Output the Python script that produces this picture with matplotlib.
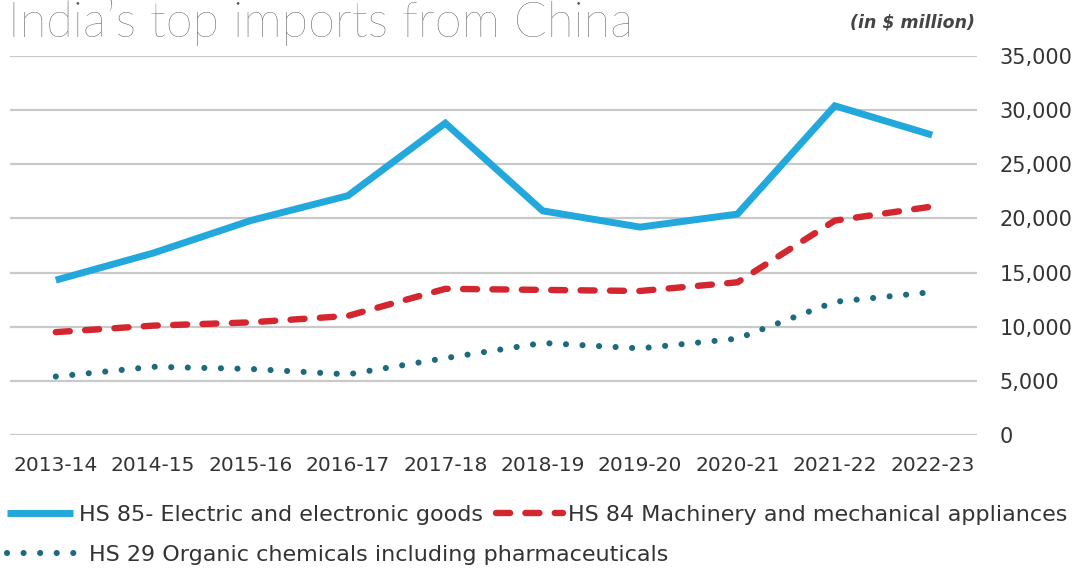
import matplotlib
matplotlib.use("Agg")
import matplotlib.pyplot as plt
from matplotlib.ticker import FuncFormatter

years = ["2013-14", "2014-15", "2015-16", "2016-17", "2017-18",
         "2018-19", "2019-20", "2020-21", "2021-22", "2022-23"]
electric = [14300, 16800, 19800, 22100, 28800, 20700, 19200, 20400, 30400, 27700]
machinery = [9500, 10100, 10400, 11000, 13500, 13400, 13300, 14100, 19800, 21100]
organic = [5400, 6300, 6100, 5600, 7100, 8500, 8000, 8900, 12300, 13200]
series_labels = ["HS 85- Electric and electronic goods",
                 "HS 84 Machinery and mechanical appliances",
                 "HS 29 Organic chemicals including pharmaceuticals"]
yticks = [0, 5000, 10000, 15000, 20000, 25000, 30000, 35000]

cond = ["DejaVu Sans"]
txt_color = "#333333"

W, H = 1075, 573
fig = plt.figure(figsize=(W / 100, H / 100), dpi=100)
fig.patch.set_facecolor("white")

ax_l, ax_r, ax_t, ax_b = 10, 977, 56, 435
ax = fig.add_axes([ax_l / W, 1 - ax_b / H, (ax_r - ax_l) / W, (ax_b - ax_t) / H])

x = list(range(len(years)))
blue = "#22a8dc"
red = "#d4262f"
teal = "#1c6a7e"

l1, = ax.plot(x, electric, color=blue, lw=5.0, solid_joinstyle="miter",
              solid_capstyle="butt", zorder=3)
l2, = ax.plot(x, machinery, color=red, lw=4.6, linestyle=(0, (2.2, 2.4)),
              dash_capstyle="round", zorder=3)
l3, = ax.plot(x, organic, color=teal, lw=4.4, linestyle=(0, (0.01, 2.7)),
              dash_capstyle="round", zorder=3)

ax.set_ylim(0, 35000)
ax.set_xlim(-0.47, 9.46)
ax.set_yticks(yticks)
ax.yaxis.set_major_formatter(FuncFormatter(lambda v, p: f"{int(v):,}"))
ax.yaxis.tick_right()
ax.set_xticks(x)
ax.set_xticklabels(years)
ax.grid(axis="y", color="#c9c9c9", lw=1.6, zorder=0)
ax.grid(axis="x", visible=False)
for s in ax.spines.values():
    s.set_visible(False)
ax.tick_params(axis="y", length=0, pad=16, labelsize=15, labelcolor=txt_color)
ax.tick_params(axis="x", length=0, pad=15, labelsize=14.5, labelcolor=txt_color)
for lab in ax.get_xticklabels() + ax.get_yticklabels():
    lab.set_family(cond)

fig.text(8 / W, 1 - 37 / H, "India\u2019s top imports from China", fontsize=35,
         family=["Lato", "DejaVu Sans"], fontweight="light", color="#5a5a5a",
         ha="left", va="baseline")
fig.text(975 / W, 1 - 22 / H, "(in $ million)", fontsize=12.5, family=cond,
         style="italic", fontweight="bold", color="#444444", ha="right", va="center")

leg1 = fig.legend([l1, l2], series_labels[:2], loc="center left",
                  bbox_to_anchor=(0.0, 1 - 515 / H), ncol=2, frameon=False,
                  handlelength=3.0, handletextpad=0.25, columnspacing=0.6,
                  borderaxespad=0, borderpad=0.3,
                  prop={"family": cond, "size": 16})
leg2 = fig.legend([l3], series_labels[2:], loc="center left",
                  bbox_to_anchor=(0.0, 1 - 555 / H), ncol=1, frameon=False,
                  handlelength=3.3, handletextpad=0.4,
                  borderaxespad=0, borderpad=0.3,
                  prop={"family": cond, "size": 16})
for lg in (leg1, leg2):
    for t in lg.get_texts():
        t.set_color(txt_color)

fig.savefig("out.png", dpi=100, facecolor="white")
